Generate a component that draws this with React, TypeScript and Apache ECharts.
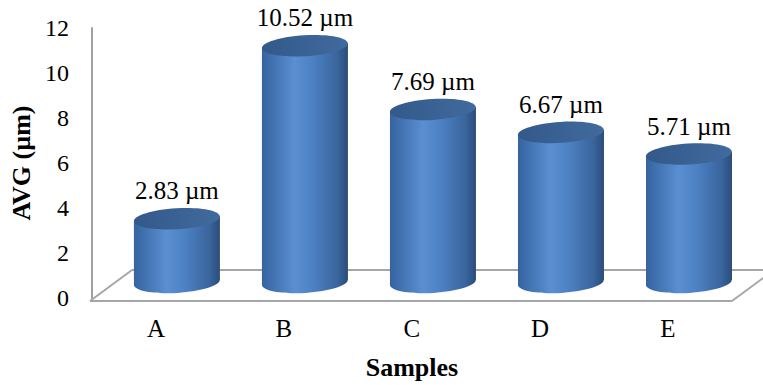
import React, { useEffect, useRef } from "react";
import * as echarts from "echarts";

const categories = ["A", "B", "C", "D", "E"];
const avgValues = [2.83, 10.52, 7.69, 6.67, 5.71];
const yTicks = { min: 0, max: 12, interval: 2 };
const unit = "µm";

const GRID = { left: 90, top: 28, width: 642, height: 273 };
const DX = 42;
const DY = -31;
const RX = 43;
const RY = 10.5;
const TILT = 0.06;
const FONT = "Times New Roman, Liberation Serif, serif";

export default function App() {
  const ref = useRef<HTMLDivElement>(null);
  useEffect(() => {
    if (!ref.current) return;
    const chart = echarts.init(ref.current, null, { renderer: "svg" });
    const bodyGrad = () =>
      new echarts.graphic.LinearGradient(0, 0, 1, 0, [
        { offset: 0, color: "#3563a0" },
        { offset: 0.38, color: "#5a8fd2" },
        { offset: 0.6, color: "#4b80c2" },
        { offset: 0.88, color: "#3a649c" },
        { offset: 1, color: "#2a4c7a" },
      ]);
    const topGrad = () =>
      new echarts.graphic.LinearGradient(0, 0, 1, 0, [
        { offset: 0, color: "#33598a" },
        { offset: 1, color: "#416a9e" },
      ]);
    const fx0 = GRID.left;
    const fx1 = GRID.left + GRID.width;
    const fy = GRID.top + GRID.height;
    const lineStyle = { stroke: "#a6a6a6", lineWidth: 2 };
    chart.setOption({
      animation: false,
      backgroundColor: "#ffffff",
      textStyle: { fontFamily: FONT },
      grid: { left: GRID.left, top: GRID.top, width: GRID.width, height: GRID.height, containLabel: false },
      xAxis: {
        type: "category",
        data: categories,
        axisLine: { show: false },
        axisTick: { show: false },
        axisLabel: { color: "#000", fontSize: 25, fontFamily: FONT, margin: 18 },
        name: "Samples",
        nameLocation: "middle",
        nameGap: 56,
        nameTextStyle: { color: "#000", fontSize: 26, fontWeight: "bold", fontFamily: FONT },
      },
      yAxis: {
        type: "value",
        min: yTicks.min,
        max: yTicks.max,
        interval: yTicks.interval,
        splitLine: { show: false },
        axisTick: { show: false },
        axisLine: { show: true, lineStyle: { color: "#a0a0a0", width: 2 } },
        axisLabel: { color: "#000", fontSize: 24, fontFamily: FONT, margin: 23 },
        name: "AVG (µm)",
        nameLocation: "middle",
        nameGap: 53,
        nameTextStyle: { color: "#000", fontSize: 26, fontWeight: "bold", fontFamily: FONT },
      },
      graphic: [
        { type: "line", shape: { x1: fx0, y1: fy, x2: fx1, y2: fy }, style: lineStyle, z: 1 },
        { type: "line", shape: { x1: fx0, y1: fy, x2: fx0 + DX, y2: fy + DY }, style: lineStyle, z: 1 },
        { type: "line", shape: { x1: fx0 + DX, y1: fy + DY, x2: fx1 + DX, y2: fy + DY }, style: lineStyle, z: 1 },
        { type: "line", shape: { x1: fx1, y1: fy, x2: fx1 + DX, y2: fy + DY }, style: lineStyle, z: 1 },
      ],
      series: [
        {
          type: "custom",
          clip: false,
          z: 5,
          data: avgValues.map((v, i) => [i, v]),
          encode: { x: 0, y: 1 },
          renderItem: (params: any, api: any) => {
            const i = api.value(0);
            const v = api.value(1);
            const top = api.coord([i, v]);
            const base = api.coord([i, 0]);
            const cx = top[0] + DX / 2;
            const ty = top[1] + DY / 2;
            const by = base[1] + DY / 2;
            const s = RX * Math.sin(TILT);
            return {
              type: "group",
              children: [
                {
                  type: "ellipse",
                  shape: { cx, cy: by, rx: RX, ry: RY },
                  rotation: TILT,
                  originX: cx,
                  originY: by,
                  style: { fill: bodyGrad() },
                },
                {
                  type: "polygon",
                  shape: {
                    points: [
                      [cx - RX, ty + s],
                      [cx + RX, ty - s],
                      [cx + RX, by - s],
                      [cx - RX, by + s],
                    ],
                  },
                  style: { fill: bodyGrad() },
                },
                {
                  type: "ellipse",
                  shape: { cx, cy: ty, rx: RX, ry: RY },
                  rotation: TILT,
                  originX: cx,
                  originY: ty,
                  style: { fill: topGrad() },
                },
                {
                  type: "text",
                  style: {
                    x: cx,
                    y: ty - 28,
                    text: v.toFixed(2) + " " + unit,
                    fill: "#000",
                    fontSize: 25,
                    fontFamily: FONT,
                    align: "center",
                    verticalAlign: "middle",
                  },
                },
              ],
            };
          },
        },
      ],
    });
    return () => chart.dispose();
  }, []);
  return <div ref={ref} style={{ width: 763, height: 385, position: "absolute", left: 0, top: 0 }} />;
}
